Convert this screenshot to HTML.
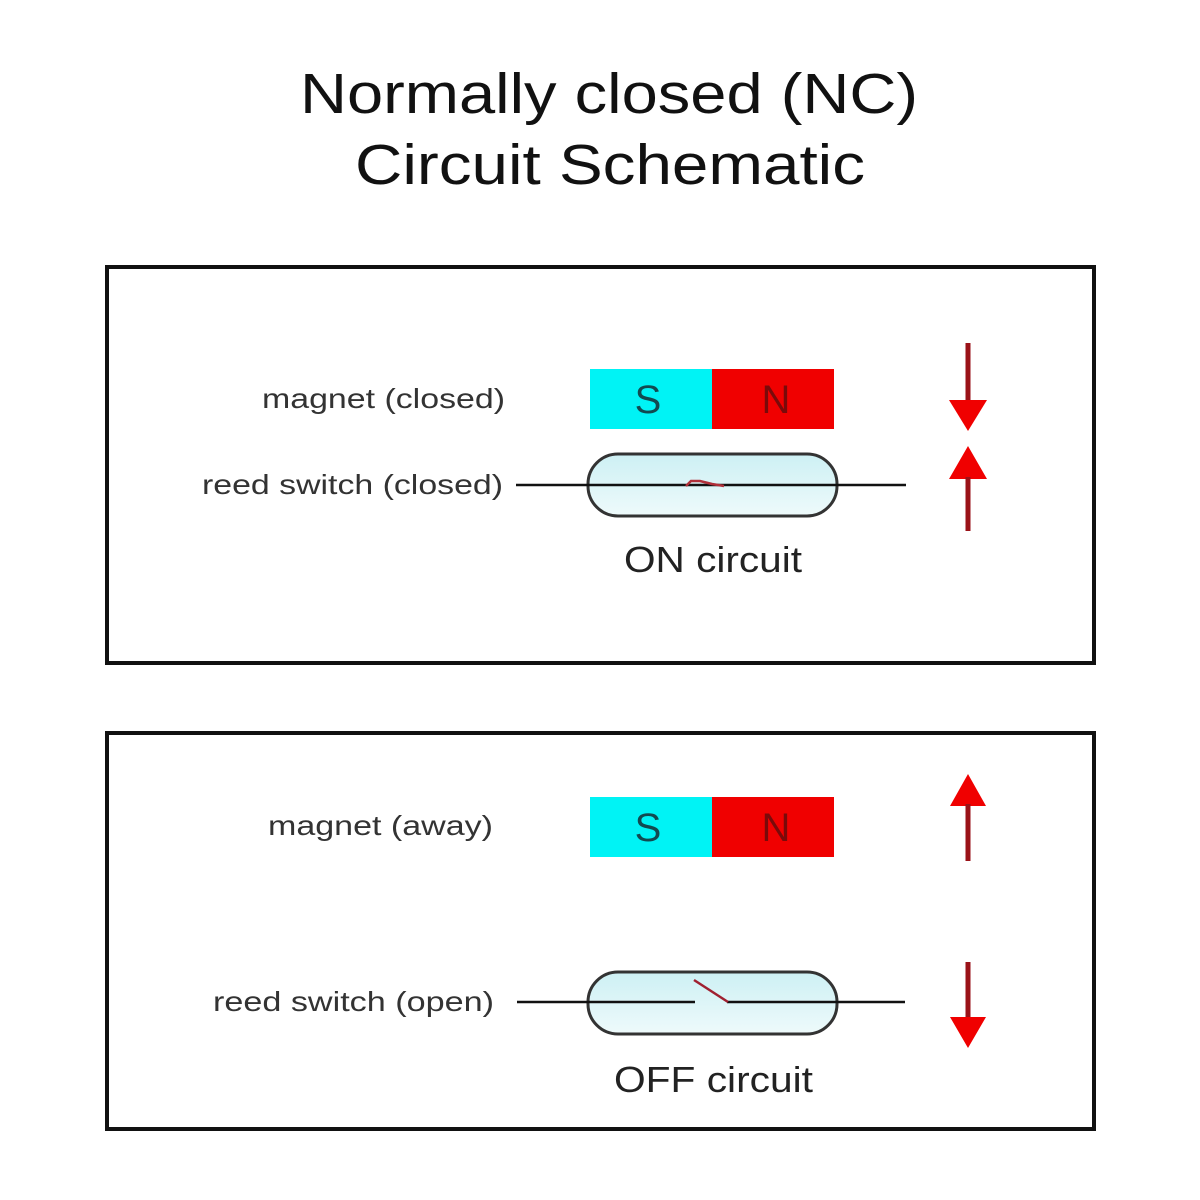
<!DOCTYPE html>
<html>
<head>
<meta charset="utf-8">
<style>
html,body{margin:0;padding:0;background:#fff;}
svg{display:block;}
</style>
</head>
<body>
<svg width="1200" height="1200" viewBox="0 0 1200 1200" xmlns="http://www.w3.org/2000/svg">
<defs>
<linearGradient id="glass" x1="0" y1="0" x2="0" y2="1">
<stop offset="0" stop-color="#cdf0f4"/>
<stop offset="1" stop-color="#eefafb"/>
</linearGradient>
</defs>
<rect width="1200" height="1200" fill="#fff"/>

<!-- Title -->
<text x="300" y="113" font-family="Liberation Sans, sans-serif" font-size="57" fill="#111" textLength="618" lengthAdjust="spacingAndGlyphs">Normally closed (NC)</text>
<text x="355" y="184" font-family="Liberation Sans, sans-serif" font-size="57" fill="#111" textLength="510" lengthAdjust="spacingAndGlyphs">Circuit Schematic</text>

<!-- Box 1 -->
<rect x="107" y="267" width="987" height="396" fill="none" stroke="#111" stroke-width="4"/>

<text x="262" y="408" font-family="Liberation Sans, sans-serif" font-size="28" fill="#333" textLength="243" lengthAdjust="spacingAndGlyphs">magnet (closed)</text>
<text x="202" y="494" font-family="Liberation Sans, sans-serif" font-size="28" fill="#333" textLength="301" lengthAdjust="spacingAndGlyphs">reed switch (closed)</text>

<rect x="590" y="369" width="122" height="60" fill="#00f3f5"/>
<rect x="712" y="369" width="122" height="60" fill="#f00000"/>
<text x="648" y="413" text-anchor="middle" font-family="Liberation Sans, sans-serif" font-size="40" fill="#124a50">S</text>
<text x="776" y="413" text-anchor="middle" font-family="Liberation Sans, sans-serif" font-size="40" fill="#7a0a0a">N</text>

<rect x="588" y="454" width="249" height="62" rx="30" ry="30" fill="url(#glass)" stroke="#333" stroke-width="3"/>
<line x1="516" y1="485" x2="906" y2="485" stroke="#111" stroke-width="2.5"/>
<path d="M686 486 L691 481 L700 481 L712 484 L724 486" fill="none" stroke="#b0303a" stroke-width="2.5"/>

<text x="624" y="572" font-family="Liberation Sans, sans-serif" font-size="36" fill="#222" textLength="178" lengthAdjust="spacingAndGlyphs">ON circuit</text>

<!-- arrows box 1 -->
<line x1="968" y1="343" x2="968" y2="402" stroke="#9a1218" stroke-width="5"/>
<polygon points="949,400 987,400 968,431" fill="#f00000"/>
<polygon points="949,479 987,479 968,446" fill="#f00000"/>
<line x1="968" y1="477" x2="968" y2="531" stroke="#9a1218" stroke-width="5"/>

<!-- Box 2 -->
<rect x="107" y="733" width="987" height="396" fill="none" stroke="#111" stroke-width="4"/>

<text x="268" y="835" font-family="Liberation Sans, sans-serif" font-size="28" fill="#333" textLength="225" lengthAdjust="spacingAndGlyphs">magnet (away)</text>
<text x="213" y="1011" font-family="Liberation Sans, sans-serif" font-size="28" fill="#333" textLength="281" lengthAdjust="spacingAndGlyphs">reed switch (open)</text>

<rect x="590" y="797" width="122" height="60" fill="#00f3f5"/>
<rect x="712" y="797" width="122" height="60" fill="#f00000"/>
<text x="648" y="841" text-anchor="middle" font-family="Liberation Sans, sans-serif" font-size="40" fill="#124a50">S</text>
<text x="776" y="841" text-anchor="middle" font-family="Liberation Sans, sans-serif" font-size="40" fill="#7a0a0a">N</text>

<rect x="588" y="972" width="249" height="62" rx="30" ry="30" fill="url(#glass)" stroke="#333" stroke-width="3"/>
<line x1="517" y1="1002" x2="695" y2="1002" stroke="#111" stroke-width="2.5"/>
<line x1="727" y1="1002" x2="905" y2="1002" stroke="#111" stroke-width="2.5"/>
<line x1="694" y1="980" x2="728" y2="1002" stroke="#a02030" stroke-width="2.5"/>

<text x="614" y="1092" font-family="Liberation Sans, sans-serif" font-size="36" fill="#222" textLength="199" lengthAdjust="spacingAndGlyphs">OFF circuit</text>

<!-- arrows box 2 -->
<polygon points="950,806 986,806 968,774" fill="#f00000"/>
<line x1="968" y1="804" x2="968" y2="861" stroke="#9a1218" stroke-width="5"/>
<line x1="968" y1="962" x2="968" y2="1019" stroke="#9a1218" stroke-width="5"/>
<polygon points="950,1017 986,1017 968,1048" fill="#f00000"/>
</svg>
</body>
</html>
